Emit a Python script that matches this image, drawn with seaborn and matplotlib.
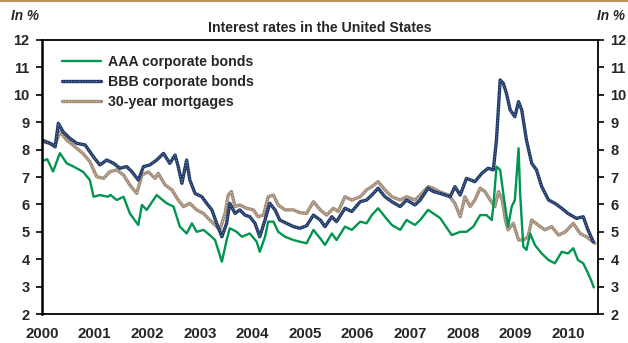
import matplotlib
matplotlib.use("Agg")
import matplotlib.pyplot as plt
from matplotlib.lines import Line2D
from matplotlib.legend_handler import HandlerTuple
import pandas as pd
import seaborn as sns

# ---- data (decimal years, percent) ----
aaa_dates = [2000.00, 2000.10, 2000.21, 2000.34, 2000.47, 2000.60, 2000.78, 2000.91, 2000.98,
             2001.10, 2001.26, 2001.30, 2001.42, 2001.55, 2001.67, 2001.83, 2001.90, 2001.99,
             2002.18, 2002.37, 2002.50, 2002.62, 2002.75, 2002.85, 2002.94, 2003.07, 2003.19,
             2003.29, 2003.42, 2003.51, 2003.57, 2003.70, 2003.80, 2003.95, 2004.08, 2004.14,
             2004.24, 2004.30, 2004.40, 2004.49, 2004.62, 2004.78, 2004.90, 2005.03, 2005.16,
             2005.29, 2005.38, 2005.51, 2005.60, 2005.76, 2005.89, 2006.05, 2006.17, 2006.27,
             2006.39, 2006.52, 2006.65, 2006.81, 2006.93, 2007.09, 2007.19, 2007.34, 2007.44,
             2007.57, 2007.79, 2007.95, 2008.07, 2008.20, 2008.33, 2008.45, 2008.55, 2008.58,
             2008.64, 2008.71, 2008.77, 2008.86, 2008.93, 2008.99, 2009.06, 2009.09, 2009.15,
             2009.21, 2009.28, 2009.37, 2009.50, 2009.63, 2009.75, 2009.88, 2010.00, 2010.10,
             2010.19, 2010.29, 2010.38, 2010.45, 2010.49]
aaa_vals = [7.58, 7.65, 7.20, 7.87, 7.50, 7.38, 7.19, 6.89, 6.28,
            6.34, 6.28, 6.35, 6.16, 6.28, 5.67, 5.25, 5.98, 5.80,
            6.34, 6.04, 5.92, 5.19, 4.94, 5.31, 5.00, 5.07, 4.88,
            4.70, 3.91, 4.70, 5.13, 5.00, 4.82, 4.94, 4.64, 4.27,
            4.82, 5.37, 5.37, 5.00, 4.82, 4.70, 4.64, 4.58, 5.07,
            4.76, 4.52, 4.94, 4.70, 5.19, 5.07, 5.37, 5.31, 5.61,
            5.86, 5.55, 5.25, 5.07, 5.43, 5.25, 5.43, 5.80, 5.67,
            5.50, 4.88, 5.00, 5.00, 5.19, 5.61, 5.61, 5.43, 5.92,
            7.38, 7.26, 6.40, 5.19, 5.92, 6.16, 8.05, 6.40, 4.46,
            4.34, 4.94, 4.52, 4.21, 3.97, 3.85, 4.27, 4.21, 4.40,
            3.97, 3.85, 3.49, 3.18, 2.97]

bbb_dates = [2000.00, 2000.15, 2000.25, 2000.31, 2000.40, 2000.53, 2000.66, 2000.82, 2000.91,
             2001.00, 2001.10, 2001.23, 2001.36, 2001.48, 2001.61, 2001.71, 2001.83, 2001.93,
             2002.05, 2002.18, 2002.31, 2002.43, 2002.53, 2002.59, 2002.66, 2002.75, 2002.81,
             2002.91, 2003.04, 2003.13, 2003.23, 2003.32, 2003.42, 2003.51, 2003.57, 2003.67,
             2003.76, 2003.86, 2003.95, 2004.05, 2004.14, 2004.24, 2004.33, 2004.43, 2004.52,
             2004.65, 2004.78, 2004.90, 2005.03, 2005.16, 2005.29, 2005.38, 2005.51, 2005.60,
             2005.76, 2005.89, 2006.05, 2006.17, 2006.27, 2006.39, 2006.52, 2006.65, 2006.81,
             2006.93, 2007.09, 2007.19, 2007.34, 2007.44, 2007.57, 2007.76, 2007.85, 2007.95,
             2008.07, 2008.23, 2008.36, 2008.48, 2008.58, 2008.64, 2008.71, 2008.77, 2008.83,
             2008.90, 2008.99, 2009.06, 2009.12, 2009.21, 2009.31, 2009.40, 2009.50, 2009.63,
             2009.75, 2009.88, 2010.00, 2010.16, 2010.29, 2010.38, 2010.48]
bbb_vals = [8.35, 8.23, 8.10, 8.96, 8.65, 8.41, 8.23, 8.17, 7.92,
            7.68, 7.44, 7.62, 7.50, 7.32, 7.38, 7.19, 6.89, 7.38,
            7.44, 7.62, 7.86, 7.50, 7.80, 7.38, 6.77, 7.62, 6.89,
            6.40, 6.28, 6.04, 5.80, 5.31, 4.82, 5.31, 6.04, 5.67,
            5.80, 5.61, 5.55, 5.31, 4.82, 5.43, 6.04, 5.80, 5.43,
            5.31, 5.19, 5.13, 5.22, 5.61, 5.43, 5.19, 5.55, 5.37,
            5.86, 5.74, 6.10, 6.16, 6.34, 6.59, 6.28, 6.10, 5.92,
            6.16, 5.98, 6.16, 6.59, 6.47, 6.40, 6.28, 6.65, 6.34,
            6.95, 6.83, 7.13, 7.32, 7.26, 8.35, 10.54, 10.42, 10.05,
            9.45, 9.20, 9.75, 9.45, 8.35, 7.50, 7.26, 6.65, 6.16,
            6.04, 5.86, 5.67, 5.49, 5.55, 5.07, 4.64]

mort_dates = [2000.00, 2000.15, 2000.25, 2000.34, 2000.47, 2000.66, 2000.78, 2000.91, 2001.04,
              2001.17, 2001.29, 2001.42, 2001.55, 2001.67, 2001.80, 2001.90, 2002.02, 2002.15,
              2002.21, 2002.34, 2002.47, 2002.59, 2002.69, 2002.81, 2002.94, 2003.07, 2003.19,
              2003.32, 2003.38, 2003.48, 2003.54, 2003.60, 2003.67, 2003.76, 2003.89, 2004.02,
              2004.11, 2004.21, 2004.30, 2004.40, 2004.49, 2004.62, 2004.78, 2004.90, 2005.03,
              2005.16, 2005.29, 2005.41, 2005.54, 2005.63, 2005.76, 2005.89, 2006.05, 2006.17,
              2006.27, 2006.39, 2006.52, 2006.65, 2006.81, 2006.93, 2007.09, 2007.19, 2007.34,
              2007.44, 2007.57, 2007.73, 2007.85, 2007.95, 2008.04, 2008.14, 2008.23, 2008.33,
              2008.42, 2008.52, 2008.61, 2008.68, 2008.75, 2008.81, 2008.86, 2008.96, 2009.06,
              2009.15, 2009.24, 2009.31, 2009.43, 2009.56, 2009.69, 2009.82, 2009.95, 2010.10,
              2010.23, 2010.35, 2010.51]
mort_vals = [8.29, 8.23, 8.17, 8.65, 8.35, 8.05, 7.86, 7.56, 7.01,
             6.95, 7.19, 7.26, 7.07, 6.71, 6.40, 7.07, 7.19, 6.95,
             7.13, 6.71, 6.53, 6.16, 5.92, 6.04, 5.80, 5.67, 5.43,
             5.19, 5.07, 5.67, 6.34, 6.47, 5.92, 5.98, 5.86, 5.80,
             5.55, 5.61, 6.28, 6.34, 5.98, 5.80, 5.80, 5.70, 5.67,
             6.10, 5.80, 5.61, 5.86, 5.74, 6.28, 6.16, 6.28, 6.53,
             6.65, 6.83, 6.53, 6.28, 6.16, 6.28, 6.16, 6.34, 6.65,
             6.59, 6.45, 6.34, 6.04, 5.55, 6.28, 5.92, 6.16, 6.59,
             6.47, 6.16, 5.92, 6.47, 6.16, 5.43, 5.07, 5.31, 4.70,
             4.70, 4.82, 5.43, 5.25, 5.07, 5.19, 4.88, 5.00, 5.31,
             4.94, 4.82, 4.58]

series_labels = ["AAA corporate bonds", "BBB corporate bonds", "30-year mortgages"]
year_ticks = list(range(2000, 2011))
y_ticks = list(range(2, 13))

# ---- styling ----
sns.set_theme(style="white")
plt.rcParams["font.family"] = ["Liberation Sans", "DejaVu Sans"]
plt.rcParams["font.weight"] = "bold"

fig = plt.figure(figsize=(6.28, 3.43), dpi=100)
ax = fig.add_axes([0.0669, 0.0845, 0.8853, 0.7989])

green = "#00964f"
navy = "#1f3864"
navy_in = "#6d86ad"
tan = "#a08a76"
tan_in = "#d6c9bb"

df_aaa = pd.DataFrame({"date": aaa_dates, "rate": aaa_vals})
df_bbb = pd.DataFrame({"date": bbb_dates, "rate": bbb_vals})
df_mort = pd.DataFrame({"date": mort_dates, "rate": mort_vals})

# 30-year mortgages: solid tan base with a light dotted core
sns.lineplot(data=df_mort, x="date", y="rate", ax=ax, color=tan, lw=2.4)
sns.lineplot(data=df_mort, x="date", y="rate", ax=ax, color=tan_in, lw=0.8,
             linestyle=(0, (1, 1.5)))
# BBB: solid navy base with a lighter dotted core
sns.lineplot(data=df_bbb, x="date", y="rate", ax=ax, color=navy, lw=2.4)
sns.lineplot(data=df_bbb, x="date", y="rate", ax=ax, color=navy_in, lw=0.8,
             linestyle=(0, (1, 1.5)))
# AAA: plain green
sns.lineplot(data=df_aaa, x="date", y="rate", ax=ax, color=green, lw=1.7)

ln = ax.get_lines()
mort_base, mort_core, bbb_base, bbb_core, aaa_line = ln[:5]

ax.set_xlim(2000, 2010.57)
ax.set_ylim(2, 12)
ax.set_xticks(year_ticks)
ax.set_xticklabels([str(y) for y in year_ticks], fontsize=10.8, fontweight="bold")
ax.set_yticks(y_ticks)
ax.set_yticklabels([str(v) for v in y_ticks], fontsize=10.5, fontweight="bold")
ax.set_xlabel("")
ax.set_ylabel("")

ax.tick_params(axis="x", length=0, pad=9)
ax.tick_params(axis="y", which="both", direction="out", length=4, width=1.2,
               left=True, right=True, labelleft=True, labelright=True,
               color="black", pad=5)
for t in ax.yaxis.get_major_ticks():
    t.label2.set_fontweight("bold")
    t.label2.set_fontsize(10.5)
for sp in ax.spines.values():
    sp.set_visible(True)
    sp.set_color("black")
    sp.set_linewidth(1.3)
ax.spines["left"].set_linewidth(1.8)
ax.grid(False)

leg = ax.legend([aaa_line, (bbb_base, bbb_core), (mort_base, mort_core)], series_labels,
                handler_map={tuple: HandlerTuple(ndivide=1, pad=0)},
                loc="upper left", bbox_to_anchor=(0.025, 0.965), frameon=False,
                handlelength=2.8, handletextpad=0.45, labelspacing=0.42,
                prop={"size": 10.2, "weight": "bold"}, borderaxespad=0)

fig.text(0.51, 0.918, "Interest rates in the United States", ha="center", va="center",
         fontsize=10.2, fontweight="bold")
fig.text(0.018, 0.952, "In %", ha="left", va="center", fontsize=9.8,
         fontweight="bold", fontstyle="italic")
fig.text(0.996, 0.952, "In %", ha="right", va="center", fontsize=9.8,
         fontweight="bold", fontstyle="italic")
fig.add_artist(Line2D([0, 1], [0.998, 0.998], transform=fig.transFigure,
                      color="#c0905e", lw=1.5))

fig.savefig("out.png", dpi=100, facecolor="white")
